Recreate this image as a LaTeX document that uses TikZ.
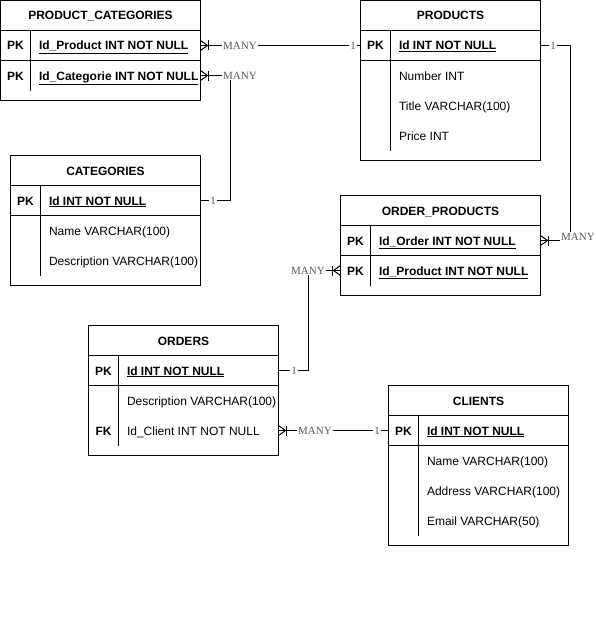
\documentclass[tikz,border=0pt]{standalone}
\usepackage{fontspec}
\setmainfont{Liberation Sans}
\newfontfamily\lblfont{Liberation Serif}
\newcommand\ertab[6]{%
  \node[tbl, minimum width=#4pt, minimum height=#5pt] (#1) at (#2,#3) {};
  \node[hdr] (#1-h) at (#2+#4/2,#3+15) {#6};
  \draw (#2,#3+30) -- (#2+#4,#3+30);
  \draw (#2,#3+60) -- (#2+#4,#3+60);
  \draw (#2+30,#3+30) -- (#2+30,#3+#5-10);
}
\begin{document}
\begin{tikzpicture}[x=1pt,y=-1pt, line width=1pt,
  tbl/.style={draw, anchor=north west, inner sep=0pt, outer sep=0pt},
  txt/.style={inner sep=0pt, text height=10.5pt, text depth=1.5pt, font=\fontsize{12}{14}\selectfont},
  hdr/.style={txt, font=\bfseries\fontsize{12}{14}\selectfont},
  key/.style={txt, font=\bfseries\fontsize{12}{14}\selectfont},
  fld/.style={txt, anchor=west},
  kfld/.style={txt, anchor=west, font=\bfseries\fontsize{12}{14}\selectfont},
  lbl/.style={font=\lblfont\fontsize{11}{13}\selectfont, text=black!65, fill=white, inner sep=1pt},
  conn/.style={draw, line width=1pt},
  crow/.pic={\draw[line width=1pt] (0,-5) -- (7,0) -- (0,5); \draw[line width=1pt] (8,-5) -- (8,5);}
]
\useasboundingbox (0,0) rectangle (595,642);

% PRODUCT_CATEGORIES
\ertab{pc}{0.5}{0.5}{200}{100}{PRODUCT\_CATEGORIES}
\node[key] (pc-k1) at (15.5,45.5) {PK};
\node[kfld] (pc-f1) at (38.5,45.5) {\underline{Id\_Product INT NOT NULL}};
\node[key] (pc-k2) at (15.5,75.5) {PK};
\node[kfld] (pc-f2) at (38.5,75.5) {\underline{Id\_Categorie INT NOT NULL}};

% PRODUCTS
\ertab{pr}{360.5}{0.5}{180}{160}{PRODUCTS}
\node[key] (pr-k1) at (375.5,45.5) {PK};
\node[kfld] (pr-f1) at (398.5,45.5) {\underline{Id INT NOT NULL}};
\node[fld] (pr-f2) at (398.5,75.5) {Number INT};
\node[fld] (pr-f3) at (398.5,105.5) {Title VARCHAR(100)};
\node[fld] (pr-f4) at (398.5,135.5) {Price INT};

% CATEGORIES
\ertab{cat}{10.5}{155.5}{190}{130}{CATEGORIES}
\node[key] (cat-k1) at (25.5,200.5) {PK};
\node[kfld] (cat-f1) at (48.5,200.5) {\underline{Id INT NOT NULL}};
\node[fld] (cat-f2) at (48.5,230.5) {Name VARCHAR(100)};
\node[fld] (cat-f3) at (48.5,260.5) {Description VARCHAR(100)};

% ORDER_PRODUCTS
\ertab{op}{340.5}{195.5}{200}{100}{ORDER\_PRODUCTS}
\node[key] (op-k1) at (355.5,240.5) {PK};
\node[kfld] (op-f1) at (378.5,240.5) {\underline{Id\_Order INT NOT NULL}};
\node[key] (op-k2) at (355.5,270.5) {PK};
\node[kfld] (op-f2) at (378.5,270.5) {\underline{Id\_Product INT NOT NULL}};

% ORDERS
\ertab{ord}{88.5}{325.5}{190}{130}{ORDERS}
\node[key] (ord-k1) at (103.5,370.5) {PK};
\node[kfld] (ord-f1) at (126.5,370.5) {\underline{Id INT NOT NULL}};
\node[fld] (ord-f2) at (126.5,400.5) {Description VARCHAR(100)};
\node[key] (ord-k3) at (103.5,430.5) {FK};
\node[fld] (ord-f3) at (126.5,430.5) {Id\_Client INT NOT NULL};

% CLIENTS
\ertab{cl}{388.5}{385.5}{180}{160}{CLIENTS}
\node[key] (cl-k1) at (403.5,430.5) {PK};
\node[kfld] (cl-f1) at (426.5,430.5) {\underline{Id INT NOT NULL}};
\node[fld] (cl-f2) at (426.5,460.5) {Name VARCHAR(100)};
\node[fld] (cl-f3) at (426.5,490.5) {Address VARCHAR(100)};
\node[fld] (cl-f4) at (426.5,520.5) {Email VARCHAR(50)};

% connectors
\draw[conn] (pc.east |- pc-f1) -- (pr.west |- pr-f1);
\pic at (pc.east |- pc-f1) {crow};
\node[lbl] (m1) at (240,45.5) {MANY};
\node[lbl] (o1) at (353,45.5) {1};

\draw[conn] (pc.east |- pc-f2) -- ++(30,0) |- (cat.east |- cat-f1);
\pic at (pc.east |- pc-f2) {crow};
\node[lbl] (m2) at (240,75.5) {MANY};
\node[lbl] (o2) at (213,200.5) {1};

\draw[conn] (pr.east |- pr-f1) -- ++(30,0) |- (op.east |- op-f1);
\pic at (op.east |- op-f1) {crow};
\node[lbl] (o3) at (553,45.5) {1};
\node[lbl] (m3) at (578,236.5) {MANY};

\draw[conn] (ord.east |- ord-f1) -- ++(30,0) |- (op.west |- op-f2);
\pic[rotate=180] at (op.west |- op-f2) {crow};
\node[lbl] (o4) at (294,370.5) {1};
\node[lbl] (m4) at (308,270.5) {MANY};

\draw[conn] (ord.east |- ord-f3) -- (cl.west |- cl-f1);
\pic at (ord.east |- ord-f3) {crow};
\node[lbl] (m5) at (315,430.5) {MANY};
\node[lbl] (o5) at (377,430.5) {1};
\end{tikzpicture}
\end{document}
